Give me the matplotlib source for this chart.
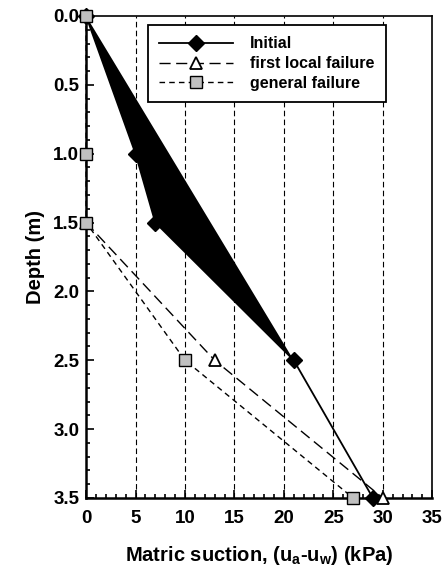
import matplotlib
matplotlib.use("Agg")
import matplotlib.pyplot as plt
from matplotlib.ticker import MultipleLocator

plt.rcParams['font.family'] = ['Liberation Sans', 'DejaVu Sans']
plt.rcParams['font.weight'] = 'bold'
plt.rcParams['mathtext.fontset'] = 'custom'
plt.rcParams['mathtext.rm'] = 'Liberation Sans:bold'
plt.rcParams['mathtext.it'] = 'Liberation Sans:bold'
plt.rcParams['mathtext.bf'] = 'Liberation Sans:bold'

# Data
initial_suction = [0, 5, 7, 21, 29]
initial_depth = [0.0, 1.0, 1.5, 2.5, 3.5]
local_suction = [0, 13, 30]
local_depth = [1.5, 2.5, 3.5]
general_suction = [0, 0, 0, 10, 27]
general_depth = [0.0, 1.0, 1.5, 2.5, 3.5]
grid_x = [5, 10, 15, 20, 25, 30]

fig = plt.figure(figsize=(4.46, 5.71), dpi=100)
ax = fig.add_axes([0.193, 0.128, 0.776, 0.844])

# black filled region of the initial profile
ax.fill(initial_suction[:4], initial_depth[:4], color='black', lw=0, zorder=2)

for gx in grid_x:
    ax.axvline(gx, color='black', lw=0.8, ls=(0, (5, 3)), zorder=1)

ax.plot(initial_suction, initial_depth, color='black', lw=1.3, ls='-',
        marker='D', ms=8, mfc='black', mec='black', label='Initial',
        zorder=4, clip_on=False)
ax.plot(local_suction, local_depth, color='black', lw=1.0, ls=(0, (8, 4)),
        marker='^', ms=9, mfc='white', mec='black', mew=1.3,
        label='first local failure', zorder=4, clip_on=False)
ax.plot(general_suction, general_depth, color='black', lw=1.0, ls=(0, (4, 3)),
        marker='s', ms=8, mfc='#c0c0c0', mec='black', mew=1.0,
        label='general failure', zorder=5, clip_on=False)

ax.set_xlim(0, 35)
ax.set_ylim(3.5, 0)
ax.xaxis.set_major_locator(MultipleLocator(5))
ax.xaxis.set_minor_locator(MultipleLocator(1))
ax.yaxis.set_major_locator(MultipleLocator(0.5))
ax.yaxis.set_minor_locator(MultipleLocator(0.1))
ax.yaxis.set_major_formatter(matplotlib.ticker.FormatStrFormatter('%.1f'))
ax.tick_params(which='both', direction='in', top=False, right=False,
               labelsize=13.5, width=1.2)
ax.tick_params(which='major', length=6)
ax.tick_params(which='minor', length=3)
ax.tick_params(axis='x', pad=9)
ax.tick_params(axis='y', pad=5)
for s in ax.spines.values():
    s.set_linewidth(1.2)
ax.spines['left'].set_linewidth(1.8)
ax.spines['bottom'].set_linewidth(1.8)

ax.set_xlabel(r'Matric suction, (u$_{a}$-u$_{w}$) (kPa)', fontsize=14.5,
              fontweight='bold', labelpad=12)
ax.set_ylabel('Depth (m)', fontsize=14.5, fontweight='bold', labelpad=6)

leg = ax.legend(loc='upper left', bbox_to_anchor=(0.179, 0.981),
                prop={'family': 'Liberation Sans', 'weight': 'bold', 'size': 11.5},
                frameon=True, fancybox=False, edgecolor='black', framealpha=1,
                handlelength=4.6, handletextpad=1.1, borderpad=0.7,
                labelspacing=0.3, borderaxespad=0)
leg.get_frame().set_linewidth(1.3)

fig.savefig('out.png', dpi=100)
